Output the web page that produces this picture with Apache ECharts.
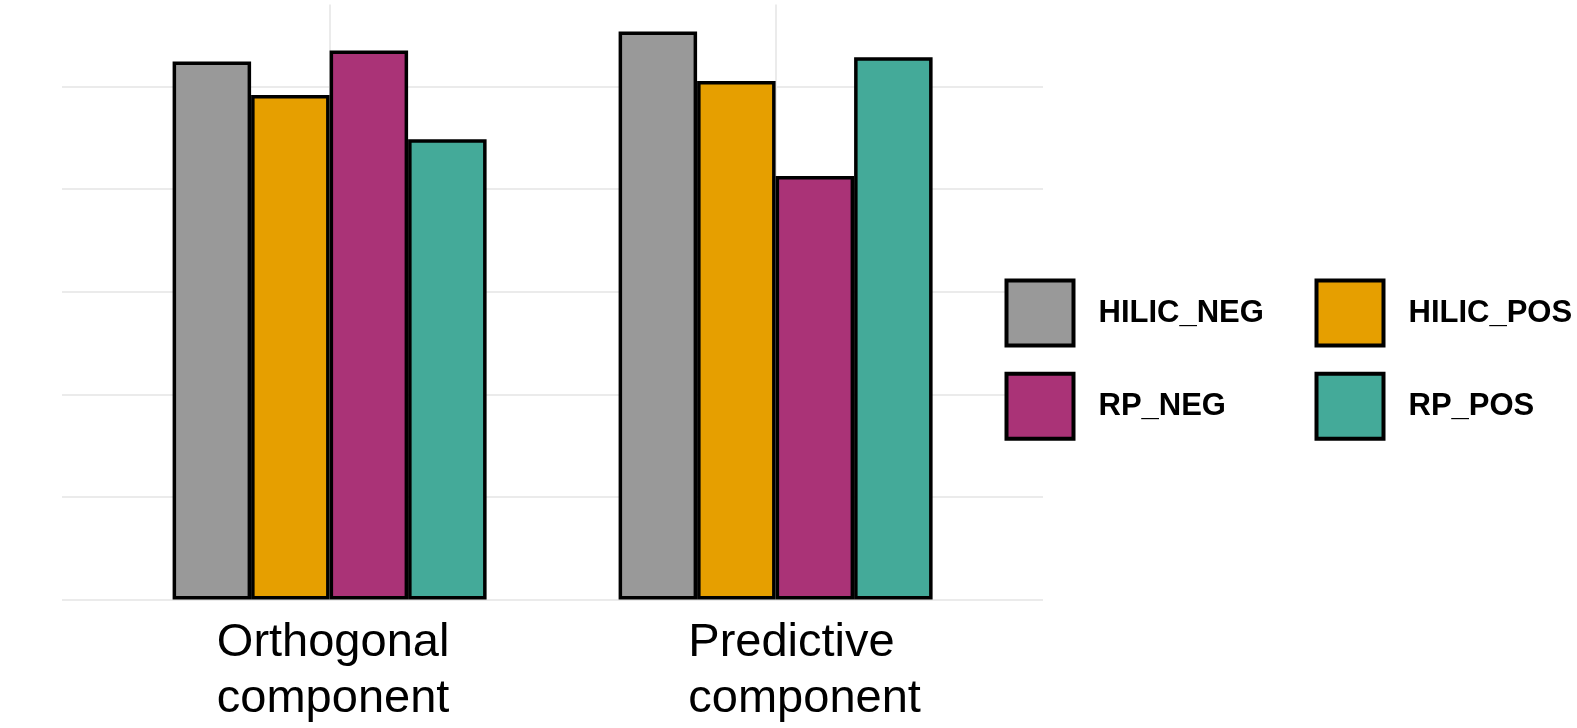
<!DOCTYPE html>
<html>
<head>
<meta charset="utf-8">
<script src="https://cdn.jsdelivr.net/npm/echarts@6/dist/echarts.min.js"></script>
<style>
html,body{margin:0;padding:0;background:#fff;}
#chart{width:1577px;height:728px;}
</style>
</head>
<body>
<div id="chart"></div>
<script>
// ---- data ----
const categories = ['Orthogonal component', 'Predictive component'];
const seriesNames = ['HILIC_NEG', 'HILIC_POS', 'RP_NEG', 'RP_POS'];
const hilicNeg = [5.245, 5.536];
const hilicPos = [4.919, 5.055];
const rpNeg = [5.351, 4.129];
const rpPos = [4.487, 5.287];
const yMax = 5.80;
const colors = ['#999999', '#E69F00', '#AA3377', '#44AA99'];

const seriesValues = [hilicNeg, hilicPos, rpNeg, rpPos];
const FONT = "'Liberation Sans', Arial, Helvetica, sans-serif";
const GRID_COLOR = '#EBEBEB';

const chart = echarts.init(document.getElementById('chart'), null, {renderer: 'canvas'});

const labelShift = {'Orthogonal component': 7, 'Predictive component': 58};

const legendPos = [
  {left: 1004.5, top: 278.5, pad: [0, 0, 6, 20]},
  {left: 1314.5, top: 278.5, pad: [0, 0, 6, 20]},
  {left: 1004.5, top: 371.8, pad: [0, 0, 0, 20]},
  {left: 1314.5, top: 371.8, pad: [0, 0, 5, 20]}
];

const option = {
  backgroundColor: '#ffffff',
  animation: false,
  grid: [
    {left: 62, right: 534, top: 4.5, bottom: 128.5},
    {left: 106.6, width: 892, top: 4.5, bottom: 128.5},
    {left: 329.6, width: 446, top: 4.5, bottom: 128.5}
  ],
  xAxis: [
    {gridIndex: 0, type: 'value', show: false, min: 0, max: 1},
    {
      gridIndex: 1, type: 'category',
      data: categories.map(c => ({value: c, textStyle: {padding: [0, 0, 0, labelShift[c]]}})),
      axisLine: {show: false}, axisTick: {show: false}, splitLine: {show: false},
      axisLabel: {
        show: true, margin: 16, align: 'center', interval: 0,
        formatter: v => v.split(' ').map(w => '{a|' + w + '}').join('\n'),
        rich: {a: {fontSize: 47, lineHeight: 56, fontFamily: FONT, color: '#000', align: 'left'}}
      }
    },
    {
      gridIndex: 2, type: 'value', min: 0, max: 1, interval: 1,
      axisLine: {show: false}, axisTick: {show: false}, axisLabel: {show: false},
      splitLine: {show: true, lineStyle: {color: GRID_COLOR, width: 2}}
    }
  ],
  yAxis: [
    {
      gridIndex: 0, type: 'value', min: 0, max: yMax, interval: 1,
      axisLine: {show: false}, axisTick: {show: false}, axisLabel: {show: false},
      splitLine: {show: true, showMaxLine: false, lineStyle: {color: GRID_COLOR, width: 2}}
    },
    {gridIndex: 1, type: 'value', min: 0, max: yMax, show: false, splitLine: {show: false}},
    {gridIndex: 2, type: 'value', min: 0, max: yMax, show: false, splitLine: {show: false}}
  ],
  legend: seriesNames.map((n, i) => ({
    data: [n],
    left: legendPos[i].left, top: legendPos[i].top,
    padding: 0, orient: 'horizontal',
    itemWidth: 67, itemHeight: 65, icon: 'rect',
    selectedMode: false,
    itemStyle: {borderColor: '#000', borderWidth: 4},
    textStyle: {fontSize: 31, fontWeight: 'bold', fontFamily: FONT, color: '#000', padding: legendPos[i].pad}
  })),
  series: seriesNames.map((n, i) => ({
    name: n, type: 'bar', xAxisIndex: 1, yAxisIndex: 1,
    data: seriesValues[i],
    barWidth: 78.5, barGap: '0%',
    itemStyle: {color: colors[i], borderColor: '#000', borderWidth: 3.5}
  }))
};
chart.setOption(option);
</script>
</body>
</html>
